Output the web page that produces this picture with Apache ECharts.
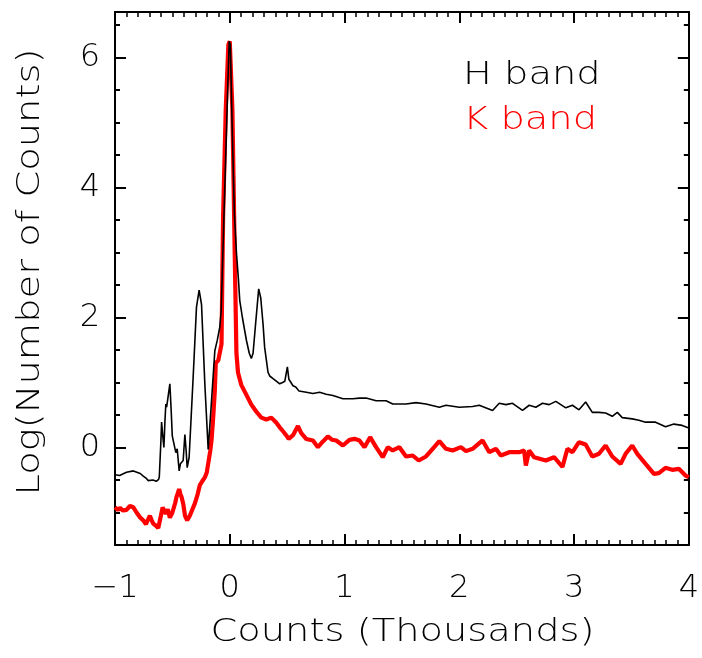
<!DOCTYPE html>
<html>
<head>
<meta charset="utf-8">
<script src="https://cdn.jsdelivr.net/npm/echarts@6/dist/echarts.min.js"></script>
<style>
html,body{margin:0;padding:0;background:#fff;}
#chart{width:702px;height:658px;}
</style>
</head>
<body>
<div id="chart"></div>
<script>
// ---- data ----
const xTicks = [-1, 0, 1, 2, 3, 4];
const yMajorTicks = [0, 2, 4, 6];
const yMinorTicks = [-1.5, -1, -0.5, 0.5, 1, 1.5, 2.5, 3, 3.5, 4.5, 5, 5.5, 6.5];
const seriesNames = ['H band', 'K band'];
const xTitle = 'Counts (Thousands)';
const yTitle = 'Log(Number of Counts)';

const hBand = [
  [-1.00,-0.42],[-0.96,-0.43],[-0.90,-0.38],[-0.84,-0.36],[-0.78,-0.40],[-0.754,-0.44],[-0.73,-0.47],
  [-0.71,-0.51],[-0.67,-0.50],[-0.64,-0.52],[-0.62,-0.49],[-0.614,-0.45],[-0.60,0.10],[-0.594,0.39],
  [-0.585,0.20],[-0.574,0.00],[-0.565,0.40],[-0.557,0.67],[-0.55,0.62],[-0.542,0.60],[-0.522,0.98],
  [-0.51,0.55],[-0.501,0.18],[-0.487,0.20],[-0.47,-0.08],[-0.458,-0.02],[-0.441,-0.36],[-0.43,-0.25],
  [-0.406,-0.20],[-0.391,0.20],[-0.38,-0.05],[-0.371,-0.31],[-0.354,-0.15],[-0.319,1.08],[-0.29,2.16],
  [-0.267,2.42],[-0.246,2.20],[-0.217,0.97],[-0.188,-0.03],[-0.159,0.72],[-0.13,1.49],[-0.11,1.64],
  [-0.087,1.85],[-0.075,2.1],[-0.06,3.0],[-0.04,4.2],[-0.02,5.4],[-0.005,6.25],[0.005,6.2],[0.02,5.0],
  [0.04,3.6],[0.058,3.0],[0.075,2.6],[0.087,2.26],[0.11,2.0],[0.145,1.65],[0.17,1.45],[0.188,1.37],
  [0.203,1.45],[0.225,1.9],[0.252,2.44],[0.27,2.3],[0.29,1.9],[0.304,1.54],[0.333,1.16],[0.348,1.10],
  [0.377,1.06],[0.40,1.03],[0.435,0.98],[0.46,1.00],[0.48,1.02],[0.502,1.24],[0.515,1.05],[0.53,1.07],
  [0.551,0.95],[0.575,0.93],[0.603,0.87],[0.667,0.85],[0.725,0.83],[0.783,0.85],[0.84,0.82],[0.899,0.80],
  [0.986,0.75],[1.072,0.75],[1.13,0.76],[1.188,0.76],[1.275,0.72],[1.362,0.72],[1.42,0.67],[1.536,0.67],
  [1.623,0.69],[1.71,0.67],[1.826,0.62],[1.884,0.65],[2.0,0.62],[2.116,0.63],[2.174,0.65],[2.29,0.57],
  [2.348,0.68],[2.406,0.66],[2.464,0.68],[2.551,0.57],[2.609,0.65],[2.667,0.62],[2.725,0.68],[2.783,0.66],
  [2.841,0.71],[2.928,0.61],[2.986,0.65],[3.043,0.58],[3.101,0.70],[3.159,0.54],[3.217,0.54],[3.275,0.53],
  [3.333,0.48],[3.377,0.54],[3.42,0.46],[3.507,0.44],[3.565,0.42],[3.623,0.39],[3.71,0.39],[3.797,0.32],
  [3.87,0.36],[3.942,0.34],[4.0,0.30]
];

const kBand = [
  [-1.00,-0.92],[-0.975,-0.96],[-0.957,-0.93],[-0.93,-0.97],[-0.90,-0.96],[-0.87,-0.90],[-0.84,-0.92],
  [-0.812,-1.00],[-0.78,-1.08],[-0.754,-1.12],[-0.73,-1.18],[-0.71,-1.10],[-0.696,-1.05],[-0.68,-1.12],
  [-0.667,-1.17],[-0.645,-1.20],[-0.623,-1.24],[-0.60,-1.05],[-0.585,-0.92],[-0.57,-0.98],[-0.557,-1.02],
  [-0.54,-0.95],[-0.522,-1.08],[-0.50,-1.00],[-0.487,-0.98],[-0.475,-0.85],[-0.464,-0.76],[-0.452,-0.70],
  [-0.441,-0.64],[-0.43,-0.72],[-0.42,-0.76],[-0.406,-0.86],[-0.39,-1.05],[-0.371,-1.12],[-0.348,-1.05],
  [-0.325,-0.95],[-0.304,-0.86],[-0.28,-0.72],[-0.261,-0.58],[-0.24,-0.52],[-0.217,-0.46],[-0.20,-0.38],
  [-0.188,-0.25],[-0.17,-0.05],[-0.159,0.11],[-0.145,0.45],[-0.130,0.88],[-0.122,1.30],[-0.10,1.34],
  [-0.087,1.37],[-0.072,1.59],[-0.058,3.57],[-0.035,5.2],[-0.012,6.2],[0.0,6.25],[0.023,5.2],[0.043,3.0],
  [0.058,1.45],[0.072,1.15],[0.101,0.96],[0.145,0.81],[0.188,0.66],[0.232,0.55],[0.275,0.46],[0.319,0.43],
  [0.362,0.46],[0.406,0.38],[0.435,0.31],[0.464,0.25],[0.50,0.17],[0.513,0.13],[0.551,0.19],[0.594,0.33],
  [0.609,0.34],[0.623,0.22],[0.667,0.13],[0.725,0.108],[0.768,0.005],[0.81,0.09],[0.855,0.169],[0.89,0.12],
  [0.928,0.108],[0.986,0.031],[1.043,0.118],[1.087,0.133],[1.13,0.108],[1.174,0.005],[1.223,0.159],
  [1.275,0.005],[1.333,-0.149],[1.377,0.005],[1.42,-0.046],[1.478,0.005],[1.536,-0.138],[1.594,-0.123],
  [1.646,-0.2],[1.71,-0.138],[1.768,-0.02],[1.826,0.097],[1.884,-0.02],[1.942,-0.046],[2.014,0.005],
  [2.058,-0.056],[2.116,-0.02],[2.203,0.108],[2.261,-0.072],[2.319,-0.02],[2.362,-0.123],[2.435,-0.072],
  [2.522,-0.072],[2.565,-0.046],[2.58,-0.277],[2.609,-0.046],[2.652,-0.149],[2.754,-0.2],[2.826,-0.149],
  [2.899,-0.3],[2.942,-0.02],[2.986,-0.072],[3.043,0.082],[3.101,0.046],[3.159,-0.138],[3.217,-0.097],
  [3.275,0.031],[3.333,-0.138],[3.406,-0.251],[3.449,-0.097],[3.507,0.031],[3.551,-0.097],[3.623,-0.251],
  [3.696,-0.405],[3.739,-0.395],[3.797,-0.313],[3.855,-0.344],[3.913,-0.328],[3.971,-0.431],[4.0,-0.456]
];

// ---- chart ----
const FONT = 'DejaVu Sans';
const FW = 200;
const chart = echarts.init(document.getElementById('chart'), null, {renderer: 'canvas'});
const lineStyle = {color: '#000', width: 2};

function xAxisDef(pos, showLabel) {
  return {
    type: 'value', position: pos, min: -1, max: 4, interval: 1,
    axisLine: {show: true, onZero: false, lineStyle},
    axisTick: {show: true, inside: true, length: 11, lineStyle: {color: '#000', width: 2}},
    minorTick: {show: true, splitNumber: 10, length: 5, lineStyle: {color: '#000', width: 1.5}},
    splitLine: {show: false}, minorSplitLine: {show: false},
    axisLabel: {
      show: showLabel, margin: 28, color: '#000', fontFamily: FONT, fontSize: 32, fontWeight: FW,
      formatter: v => (v < 0 ? '\u2212' + Math.abs(v) : String(v))
    }
  };
}
function yAxisDef(pos, ticks, len, showLabel) {
  return {
    type: 'value', position: pos, min: -1.5, max: 6.7,
    axisLine: {show: true, onZero: false, lineStyle},
    axisTick: {show: true, inside: true, length: len, customValues: ticks, lineStyle: {color: '#000', width: 2}},
    splitLine: {show: false},
    axisLabel: {
      show: showLabel, customValues: ticks, margin: 15, color: '#000', fontFamily: FONT, fontSize: 32, fontWeight: FW
    }
  };
}
const txtFont = FW + ' 32px "DejaVu Sans"';

chart.setOption({
  animation: false,
  backgroundColor: '#fff',
  grid: {left: 115, right: 12, top: 12, bottom: 113, containLabel: false},
  xAxis: [xAxisDef('bottom', true), xAxisDef('top', false)],
  yAxis: [
    yAxisDef('left', yMajorTicks, 11, true),
    yAxisDef('left', yMinorTicks, 5, false),
    yAxisDef('right', yMajorTicks, 11, false),
    yAxisDef('right', yMinorTicks, 5, false)
  ],
  series: [
    {name: seriesNames[1], type: 'line', data: kBand, showSymbol: false, symbol: 'none',
     lineStyle: {color: '#ff0000', width: 4.2}, xAxisIndex: 0, yAxisIndex: 0, z: 2},
    {name: seriesNames[0], type: 'line', data: hBand, showSymbol: false, symbol: 'none',
     lineStyle: {color: '#000', width: 1.6}, xAxisIndex: 0, yAxisIndex: 0, z: 3}
  ],
  graphic: [
    {type: 'text', x: 402.5, y: 633, scaleX: 1.2,
     style: {text: xTitle, font: txtFont, fill: '#000', textAlign: 'center', textVerticalAlign: 'middle'}},
    {type: 'text', x: 31, y: 272, rotation: Math.PI / 2, scaleX: 1.2,
     style: {text: yTitle, font: txtFont, fill: '#000', textAlign: 'center', textVerticalAlign: 'middle'}},
    {type: 'text', x: 463, y: 76, scaleX: 1.2,
     style: {text: seriesNames[0], font: txtFont, fill: '#000', textAlign: 'left', textVerticalAlign: 'middle'}},
    {type: 'text', x: 463, y: 121, scaleX: 1.2,
     style: {text: seriesNames[1], font: txtFont, fill: '#ff0000', textAlign: 'left', textVerticalAlign: 'middle'}}
  ]
});
</script>
</body>
</html>
